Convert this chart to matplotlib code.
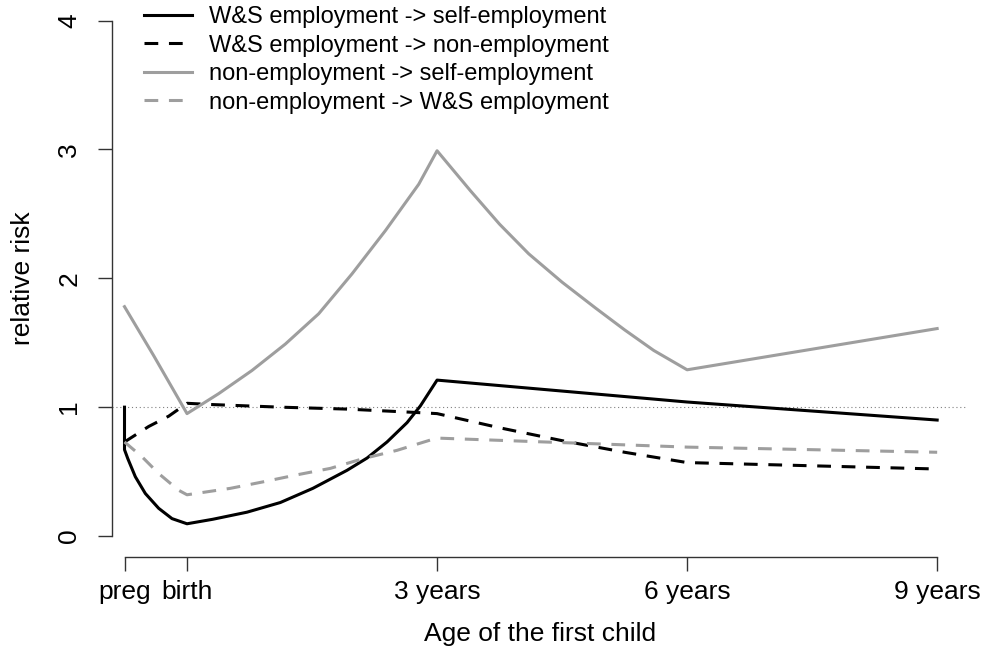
"""
Relative risk of labour-market transitions by age of the first child.
"""

import matplotlib
matplotlib.use("Agg")
import matplotlib.pyplot as plt

# age of the first child in years (preg = -0.75)
tick_pos = [-0.75, 0, 3, 6, 9]
tick_labels = ["preg", "birth", "3 years", "6 years", "9 years"]

# W&S employment -> self-employment
ws_self_x = [-0.75, -0.75, -0.71, -0.62, -0.50, -0.34, -0.18, 0.0, 0.31, 0.72, 1.12,
             1.51, 1.92, 2.16, 2.40, 2.64, 2.80, 3.0, 6.0, 9.0]
ws_self_y = [1.00, 0.67, 0.60, 0.46, 0.33, 0.215, 0.135, 0.095, 0.13, 0.185, 0.26,
             0.37, 0.51, 0.605, 0.73, 0.88, 1.01, 1.21, 1.04, 0.90]

# W&S employment -> non-employment
ws_non_x = [-0.75, -0.46, -0.22, 0.0, 0.31, 1.12, 1.92, 2.71, 3.0, 3.75, 4.5, 5.25, 6.0, 9.0]
ws_non_y = [0.73, 0.85, 0.93, 1.03, 1.02, 1.00, 0.985, 0.96, 0.95, 0.84, 0.74, 0.65, 0.57, 0.52]

# non-employment -> self-employment
non_self_x = [-0.75, -0.40, 0.0, 0.38, 0.78, 1.18, 1.58, 1.98, 2.38, 2.78, 3.0,
              3.4, 3.75, 4.1, 4.5, 4.9, 5.25, 5.6, 6.0, 9.0]
non_self_y = [1.78, 1.40, 0.95, 1.105, 1.285, 1.49, 1.725, 2.035, 2.37, 2.73, 2.99,
              2.68, 2.42, 2.19, 1.97, 1.77, 1.60, 1.44, 1.29, 1.61]

# non-employment -> W&S employment
non_ws_x = [-0.75, -0.54, -0.34, -0.10, 0.0, 0.52, 0.91, 1.32, 1.72, 2.11, 2.52,
            2.92, 3.0, 6.0, 9.0]
non_ws_y = [0.73, 0.615, 0.485, 0.355, 0.32, 0.37, 0.42, 0.475, 0.525, 0.60, 0.665,
            0.745, 0.76, 0.69, 0.65]

labels = [
    "W&S employment -> self-employment",
    "W&S employment -> non-employment",
    "non-employment -> self-employment",
    "non-employment -> W&S employment",
]

plt.rcParams["font.family"] = ["Liberation Sans", "DejaVu Sans"]
FS = 19
LEG_FS = 17
GREY = "#9e9e9e"
DASH = (0, (4.5, 3.5))

fig = plt.figure(figsize=(9.81, 6.46), dpi=100)
ax = fig.add_axes([112 / 981, 1 - 556.5 / 646, (968 - 112) / 981, 556.5 / 646])

ax.axhline(1, color="#808080", lw=0.8, ls=(0, (1, 2.5)), zorder=1)

lw = 2.2
ax.plot(ws_self_x, ws_self_y, color="black", lw=lw, label=labels[0])
ax.plot(ws_non_x, ws_non_y, color="black", lw=lw, ls=DASH, label=labels[1])
ax.plot(non_self_x, non_self_y, color=GREY, lw=lw, label=labels[2])
ax.plot(non_ws_x, non_ws_y, color=GREY, lw=lw, ls=DASH, label=labels[3])

ax.set_xlim(-0.90, 9.37)
ax.set_ylim(-0.159, 4.16)

for side in ("top", "right"):
    ax.spines[side].set_visible(False)
ax.spines["left"].set_bounds(0, 4)
ax.spines["bottom"].set_bounds(-0.75, 9)
for side in ("left", "bottom"):
    ax.spines[side].set_linewidth(1.0)
    ax.spines[side].set_color("#333333")

ax.set_xticks(tick_pos)
ax.set_xticklabels(tick_labels)
ax.set_yticks([0, 1, 2, 3, 4])
ax.set_yticklabels(["0", "1", "2", "3", "4"], rotation=90, va="center")
ax.tick_params(axis="both", length=10, width=1.0, color="#333333", labelsize=FS, pad=7)
ax.tick_params(axis="y", pad=12)

ax.set_xlabel("Age of the first child", fontsize=FS, labelpad=13)
ax.set_ylabel("relative risk", fontsize=FS, labelpad=16)

fig.legend(
    loc="upper left",
    bbox_to_anchor=(135 / 981, 1.0055),
    frameon=False,
    fontsize=LEG_FS,
    handlelength=2.0,
    handletextpad=0.75,
    labelspacing=0.28,
    borderaxespad=0,
)

fig.savefig("out.png", dpi=100)
